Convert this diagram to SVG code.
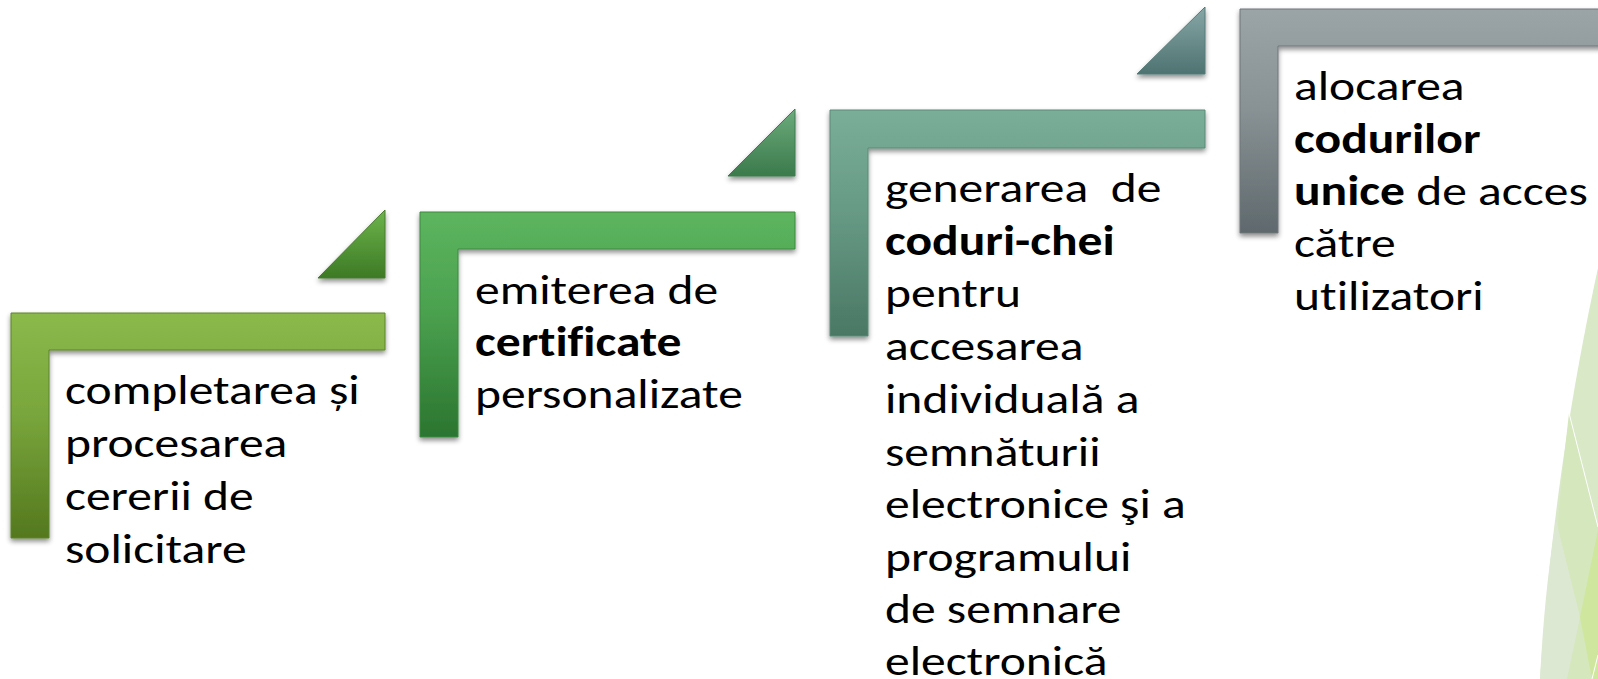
<svg xmlns="http://www.w3.org/2000/svg" width="1598" height="679" viewBox="0 0 1598 679">
  <style>
    .txt { font-family: Calibri, Carlito, "Open Sans", sans-serif; font-size: 42px; fill: #000000; font-variant-ligatures: none; font-feature-settings: "liga" 0, "clig" 0, "dlig" 0; }
    .b { font-weight: bold; }
    .bar { stroke-width: 1; filter: url(#shadow); }
  </style>
  <defs>
    <filter id="shadow" x="-10%" y="-10%" width="120%" height="130%">
      <feDropShadow dx="0" dy="3" stdDeviation="2.5" flood-color="#000000" flood-opacity="0.45"/>
    </filter>
    <linearGradient id="g1" x1="0" y1="0" x2="0" y2="1">
      <stop offset="0" stop-color="#8bb94b"/>
      <stop offset="0.45" stop-color="#79a63c"/>
      <stop offset="1" stop-color="#54781e"/>
    </linearGradient>
    <linearGradient id="t1" x1="0" y1="0" x2="0" y2="1">
      <stop offset="0" stop-color="#6db44c"/>
      <stop offset="1" stop-color="#3d7a25"/>
    </linearGradient>
    <linearGradient id="g2" x1="0" y1="0" x2="0" y2="1">
      <stop offset="0" stop-color="#5db55f"/>
      <stop offset="0.45" stop-color="#4aa04e"/>
      <stop offset="1" stop-color="#2b7530"/>
    </linearGradient>
    <linearGradient id="t2" x1="0" y1="0" x2="0" y2="1">
      <stop offset="0" stop-color="#6cab7c"/>
      <stop offset="1" stop-color="#3b7a4b"/>
    </linearGradient>
    <linearGradient id="g3" x1="0" y1="0" x2="0" y2="1">
      <stop offset="0" stop-color="#7aae99"/>
      <stop offset="0.45" stop-color="#679a85"/>
      <stop offset="1" stop-color="#4a7864"/>
    </linearGradient>
    <linearGradient id="t3" x1="0" y1="0" x2="0" y2="1">
      <stop offset="0" stop-color="#87a7a7"/>
      <stop offset="1" stop-color="#4e7371"/>
    </linearGradient>
    <linearGradient id="g4" x1="0" y1="0" x2="0" y2="1">
      <stop offset="0" stop-color="#9ba4a7"/>
      <stop offset="0.45" stop-color="#889194"/>
      <stop offset="1" stop-color="#5f696d"/>
    </linearGradient>
  </defs>

  <rect width="1598" height="679" fill="#ffffff"/>

  <g id="background-facets">
    <path d="M1598,268 C1578,360 1552,500 1540,679 L1598,679 Z" fill="#d9e8c6"/>
    <path d="M1569,413 L1598,527 L1598,679 L1548,679 C1552,590 1559,500 1569,413 Z" fill="#d5e7bc"/>
    <path d="M1556,520 L1580,617 L1567,679 L1540,679 C1543,620 1548,570 1556,520 Z" fill="#dde8d3"/>
    <path d="M1598,530 L1580,617 L1592,679 L1598,679 Z" fill="#cfe69e"/>
    <path d="M1569,413 L1598,527" stroke="#ffffff" stroke-width="1" fill="none"/>
    <path d="M1598,655 L1592,679" stroke="#ffffff" stroke-width="1" fill="none"/>
  </g>

  <g id="connectors"></g>

  <g id="step1">
    <path class="bar" d="M318,278 L385,210 L385,278 Z" fill="url(#t1)" stroke="#4a7a30"/>
    <path class="bar" d="M11,313 H385 V350 H49 V538 H11 Z" fill="url(#g1)" stroke="#5d842c"/>
    <g transform="matrix(1.18,0,0,1,-11.7,0)">
      <text class="txt" x="65" y="404">completarea și</text>
      <text class="txt" x="65" y="457">procesarea</text>
      <text class="txt" x="65" y="510">cererii de</text>
      <text class="txt" x="65" y="563">solicitare</text>
    </g>
  </g>

  <g id="step2">
    <path class="bar" d="M728,176 L795,109 L795,176 Z" fill="url(#t2)" stroke="#3f7a50"/>
    <path class="bar" d="M420,212 H795 V249 H458 V437 H420 Z" fill="url(#g2)" stroke="#3a8a3e"/>
    <g transform="matrix(1.18,0,0,1,-85.5,0)">
      <text class="txt" x="475" y="304">emiterea de</text>
      <text class="txt b" x="475" y="356">certificate</text>
      <text class="txt" x="475" y="408">personalizate</text>
    </g>
  </g>

  <g id="step3">
    <path class="bar" d="M1137,74 L1205,7 L1205,74 Z" fill="url(#t3)" stroke="#557a78"/>
    <path class="bar" d="M830,110 H1205 V148 H868 V336 H830 Z" fill="url(#g3)" stroke="#5a8a76"/>
    <g transform="matrix(1.18,0,0,1,-159.3,0)">
      <text class="txt" x="885" y="202" xml:space="preserve">generarea  de</text>
      <text class="txt b" x="885" y="255">coduri-chei</text>
      <text class="txt" x="885" y="307">pentru</text>
      <text class="txt" x="885" y="360">accesarea</text>
      <text class="txt" x="885" y="413">individuală a</text>
      <text class="txt" x="885" y="466">semnăturii</text>
      <text class="txt" x="885" y="518">electronice şi a</text>
      <text class="txt" x="885" y="571">programului</text>
      <text class="txt" x="885" y="623">de semnare</text>
      <text class="txt" x="885" y="675">electronică</text>
    </g>
  </g>

  <g id="step4">
    <path class="bar" d="M1240,9 H1615 V46 H1278 V233 H1240 Z" fill="url(#g4)" stroke="#6e777a"/>
    <g transform="matrix(1.18,0,0,1,-232.9,0)">
      <text class="txt" x="1294" y="100">alocarea</text>
      <text class="txt b" x="1294" y="153">codurilor</text>
      <text class="txt" x="1294" y="205"><tspan class="b">unice</tspan> de acces</text>
      <text class="txt" x="1294" y="257">către</text>
      <text class="txt" x="1294" y="310">utilizatori</text>
    </g>
  </g>
</svg>
